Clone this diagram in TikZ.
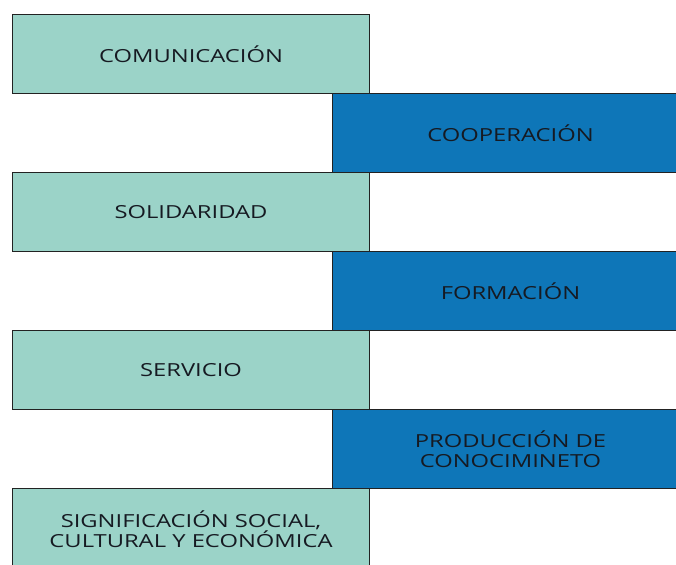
\documentclass[tikz,border=0pt]{standalone}
\usepackage{fontspec}
\setmainfont{Open Sans}[FakeStretch=1.32]
\usepackage{xcolor}
\definecolor{tealfill}{HTML}{9BD3C8}
\definecolor{bluefill}{HTML}{0E76B8}
\definecolor{edgegray}{HTML}{222222}
\definecolor{textdark}{HTML}{161A22}

\begin{document}
\begin{tikzpicture}[x=1pt,y=-1pt,
  leftbox/.style={draw=edgegray, line width=1pt, fill=tealfill, anchor=north west,
    minimum width=357pt, minimum height=79pt, inner sep=0pt, align=center,
    text=textdark, font=\fontsize{18}{20}\selectfont},
  rightbox/.style={leftbox, fill=bluefill, minimum width=356pt}]
% Define common parameters
\def\rowh{79}
\def\topy{14}

\useasboundingbox (0,0) rectangle (676,564);

% Right column: blue boxes
\node[rightbox] (cooperacion) at (332,\topy+\rowh) {COOPERACIÓN};
\node[rightbox] (formacion) at (332,\topy+3*\rowh) {FORMACIÓN};
\node[rightbox] (produccion) at (332,\topy+5*\rowh) {PRODUCCIÓN DE\\CONOCIMINETO};

% Left column: teal boxes
\node[leftbox] (comunicacion) at (12,\topy) {COMUNICACIÓN};
\node[leftbox] (solidaridad) at (12,\topy+2*\rowh) {SOLIDARIDAD};
\node[leftbox] (servicio) at (12,\topy+4*\rowh) {SERVICIO};
\node[leftbox, minimum height=81pt] (significacion) at (12,\topy+6*\rowh)
  {SIGNIFICACIÓN SOCIAL,\\CULTURAL Y ECONÓMICA};

\end{tikzpicture}
\end{document}
